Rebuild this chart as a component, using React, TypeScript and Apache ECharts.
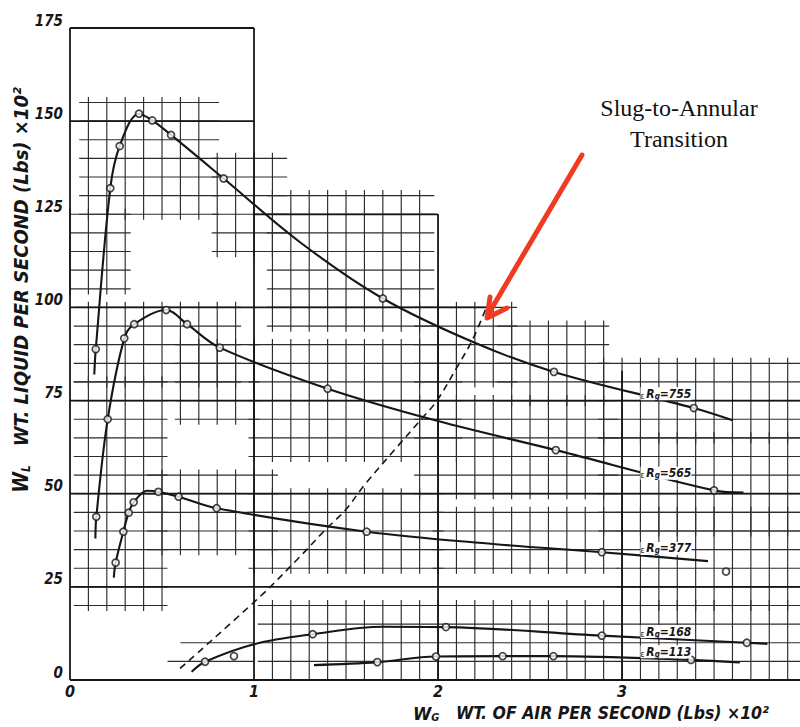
import React, { useEffect, useRef } from "react";
import * as echarts from "echarts";

// ---------- data ----------
const xTicks = [0, 1, 2, 3];
const yTicks = [0, 25, 50, 75, 100, 125, 150, 175];

// measured points (W_G, W_L)
const r755Points = [
  [0.14, 88.8], [0.219, 132], [0.27, 143.3], [0.375, 152], [0.447, 150.2],
  [0.549, 146.3], [0.835, 134.6], [1.70, 102.4], [2.63, 82.7], [3.39, 73.0],
];
const r565Points = [
  [0.143, 43.8], [0.205, 70.0], [0.295, 91.7], [0.349, 95.5], [0.523, 99.3],
  [0.636, 95.5], [0.814, 89.2], [1.40, 78.2], [2.64, 61.7], [3.50, 50.9],
];
const r377Points = [
  [0.248, 31.5], [0.29, 39.8], [0.319, 44.9], [0.346, 47.7], [0.48, 50.5],
  [0.59, 49.2], [0.797, 46.1], [1.612, 39.8], [2.89, 34.3], [3.565, 29.1],
];
const r168Points = [
  [0.734, 4.9], [0.891, 6.4], [1.319, 12.3], [2.043, 14.2], [2.89, 11.9], [3.678, 10.0],
];
const r113Points = [
  [1.67, 4.8], [1.989, 6.3], [2.351, 6.4], [2.627, 6.4], [3.375, 5.4],
];

// faired curves as drawn on the original
const r755Curve = [
  [0.132, 82], [0.14, 88.8], [0.219, 132], [0.27, 143.3], [0.375, 152], [0.447, 150.2],
  [0.549, 146.3], [0.835, 134.6], [1.25, 117.5], [1.70, 102.4], [2.2, 90.5],
  [2.63, 82.7], [3.39, 73.0], [3.6, 69.7],
];
const r565Curve = [
  [0.138, 38], [0.143, 43.8], [0.205, 70.0], [0.295, 91.7], [0.349, 95.5], [0.523, 99.3],
  [0.636, 95.5], [0.814, 89.2], [1.40, 78.2], [2.0, 69.5], [2.64, 61.7], [3.50, 50.9], [3.66, 50.3],
];
const r377Curve = [
  [0.238, 27.5], [0.248, 31.5], [0.29, 39.8], [0.319, 44.9], [0.346, 47.7], [0.42, 50.8],
  [0.48, 50.5], [0.59, 49.2], [0.797, 46.1], [1.612, 39.8], [2.3, 36.5], [2.89, 34.3], [3.467, 31.9],
];
const r168Curve = [
  [0.661, 2.2], [0.734, 4.9], [1.0, 9.6], [1.319, 12.3], [1.7, 14.3], [2.043, 14.2],
  [2.89, 11.9], [3.678, 10.0], [3.79, 9.7],
];
const r113Curve = [
  [1.326, 4.0], [1.67, 4.8], [1.989, 6.3], [2.351, 6.4], [2.627, 6.4], [3.375, 5.4], [3.64, 4.7],
];
// dashed slug-to-annular transition line
const transitionCurve = [
  [0.598, 3.1], [1.033, 22.4], [1.232, 32.2], [1.395, 40.7], [1.493, 45.4], [1.603, 52.5],
  [1.773, 62.3], [1.905, 69.8], [1.99, 74.7], [2.105, 84.1], [2.19, 91.6], [2.259, 99.6],
];

// curve labels: [W_G, W_L, Rg]
const curveLabels = [
  [3.1, 76.8, "755"],
  [3.1, 55.5, "565"],
  [3.1, 35.3, "377"],
  [3.1, 13.0, "168"],
  [3.1, 7.6, "113"],
];

// heavy lines of the graph paper: [x0, y0, x1, y1]
const frameLines = [
  [0, 0, 0, 175], [0, 0, 3.967, 0], [0, 175, 1, 175], [1, 0, 1, 175],
  [1, 125, 2, 125], [2, 0, 2, 125], [0, 150, 1, 150], [0, 100, 2.3, 100],
  [0, 75, 3.967, 75], [0, 50, 3.967, 50], [0, 25, 3.967, 25], [3, 0, 3, 83],
];

// single fine rules: [x0, y0, x1, y1]
const thinLines = [
  [0.6, 10, 1.0, 10], [0.53, 5, 1.0, 5],
];

// patches of fine ruling (0.1 x 5 units): [x0, x1, y0, y1]
const gridPatches = [
  [0.08, 0.78, 125, 155],
  [0.0, 0.3, 105, 125],
  [0.8, 1.15, 115, 140],
  [1.1, 1.95, 95, 130],
  [1.9, 2.4, 80, 100],
  [2.35, 2.9, 75, 95],
  [2.9, 3.97, 65, 85],
  [0.05, 0.9, 80, 100],
  [0.6, 1.0, 70, 90],
  [1.0, 2.1, 60, 90],
  [1.9, 2.95, 50, 75],
  [2.9, 3.97, 40, 65],
  [0.05, 0.5, 20, 80],
  [0.45, 1.1, 35, 55],
  [1.0, 2.0, 30, 50],
  [2.0, 2.95, 30, 45],
  [3.0, 3.97, 20, 45],
  [1.05, 3.97, 0, 20],
];

const INK = "#161616";
const RULE = "#2c2c2c";
const HAND = '"DejaVu Sans Condensed", "DejaVu Sans", sans-serif';

export default function App() {
  const ref = useRef<HTMLDivElement>(null);

  useEffect(() => {
    document.body.style.margin = "0";
    const chart = echarts.init(ref.current!, null, { renderer: "svg" });

    const curveSeries = (data: number[][], dashed = false) => ({
      type: "line",
      data,
      smooth: 0.35,
      showSymbol: false,
      silent: true,
      z: 4,
      lineStyle: { color: INK, width: dashed ? 1.6 : 2.1, type: dashed ? [7, 5] : "solid" },
    });
    const pointSeries = (data: number[][]) => ({
      type: "scatter",
      data,
      symbol: "circle",
      symbolSize: 7,
      silent: true,
      z: 5,
      itemStyle: { color: "#fff", borderColor: INK, borderWidth: 1.7 },
    });
    const segSeries = (data: number[][], width: number, color: string, z: number) => ({
      type: "custom",
      data,
      encode: { x: [0, 2], y: [1, 3] },
      silent: true,
      z,
      renderItem: (params: any, api: any) => {
        const a = api.coord([api.value(0), api.value(1)]);
        const b = api.coord([api.value(2), api.value(3)]);
        return {
          type: "line",
          shape: { x1: a[0], y1: a[1], x2: b[0], y2: b[1] },
          style: { stroke: color, lineWidth: width },
        };
      },
    });

    const handRich = (main: number, sub: number, pad: number) => ({
      w: { fontSize: main + 1, fontFamily: HAND, fontStyle: "italic", fontWeight: "bold", fill: INK },
      s: { fontSize: sub, fontFamily: HAND, fontStyle: "italic", fontWeight: "bold", fill: INK, verticalAlign: "bottom", padding: [pad, 0, 0, 0] },
      t: { fontSize: main, fontFamily: HAND, fontStyle: "italic", fontWeight: "bold", fill: INK },
    });

    const option: any = {
      animation: false,
      backgroundColor: "#fff",
      grid: { left: 70, right: 0, top: 28, bottom: 47 },
      xAxis: {
        type: "value",
        min: 0,
        max: 3.967,
        interval: 1,
        axisLine: { show: false },
        axisTick: { show: false },
        splitLine: { show: false },
        axisLabel: {
          showMaxLabel: false,
          margin: 3,
          fontFamily: HAND,
          fontStyle: "italic",
          fontWeight: "bold",
          fontSize: 16,
          color: INK,
          formatter: (v: number) => (xTicks.includes(v) ? String(v) : ""),
        },
      },
      yAxis: {
        type: "value",
        min: 0,
        max: 175,
        interval: 25,
        axisLine: { show: false },
        axisTick: { show: false },
        splitLine: { show: false },
        axisLabel: {
          margin: 7,
          verticalAlign: "bottom",
          fontFamily: HAND,
          fontStyle: "italic",
          fontWeight: "bold",
          fontSize: 15,
          color: INK,
          formatter: (v: number) => (yTicks.includes(v) ? String(v) : ""),
        },
      },
      series: [
        {
          type: "custom",
          data: gridPatches,
          encode: { x: [0, 1], y: [2, 3] },
          silent: true,
          z: 1,
          renderItem: (params: any, api: any) => {
            const x0 = api.value(0), x1 = api.value(1), y0 = api.value(2), y1 = api.value(3);
            const children: any[] = [];
            const st = { stroke: RULE, lineWidth: 1.15 };
            for (let k = Math.ceil(x0 * 10 - 1e-6); k <= Math.floor(x1 * 10 + 1e-6); k++) {
              const a = api.coord([k / 10, Math.max(0, y0 - 1.5)]);
              const b = api.coord([k / 10, y1 + 1.5]);
              children.push({ type: "line", shape: { x1: a[0], y1: a[1], x2: b[0], y2: b[1] }, style: st });
            }
            for (let k = Math.ceil(y0 / 5 - 1e-6); k <= Math.floor(y1 / 5 + 1e-6); k++) {
              const a = api.coord([Math.max(0, x0 - 0.03), k * 5]);
              const b = api.coord([Math.min(3.967, x1 + 0.03), k * 5]);
              children.push({ type: "line", shape: { x1: a[0], y1: a[1], x2: b[0], y2: b[1] }, style: st });
            }
            return { type: "group", children };
          },
        },
        segSeries(thinLines, 1.15, RULE, 1),
        segSeries(frameLines, 1.8, INK, 2),
        curveSeries(r755Curve),
        curveSeries(r565Curve),
        curveSeries(r377Curve),
        curveSeries(r168Curve),
        curveSeries(r113Curve),
        curveSeries(transitionCurve, true),
        pointSeries(r755Points),
        pointSeries(r565Points),
        pointSeries(r377Points),
        pointSeries(r168Points),
        pointSeries(r113Points),
        {
          type: "custom",
          data: curveLabels,
          encode: { x: 0, y: 1 },
          silent: true,
          z: 6,
          renderItem: (params: any, api: any) => {
            const item = curveLabels[params.dataIndex];
            const p = api.coord([item[0], item[1]]);
            return {
              type: "text",
              x: p[0],
              y: p[1],
              style: {
                text: `{e|ε}{r|R}{s|g}{r|=${item[2]}}`,
                verticalAlign: "middle",
                align: "left",
                backgroundColor: "#fff",
                rich: {
                  e: { fontSize: 8, fontFamily: HAND, fill: INK, verticalAlign: "bottom", padding: [4, 2, 0, 0] },
                  r: { fontSize: 12, fontFamily: HAND, fontStyle: "italic", fontWeight: "bold", fill: INK },
                  s: { fontSize: 8, fontFamily: HAND, fontStyle: "italic", fontWeight: "bold", fill: INK, verticalAlign: "bottom", padding: [5, 0, 0, 0] },
                },
              },
            };
          },
        },
      ],
      graphic: [
        {
          type: "text",
          x: 413,
          y: 713,
          style: {
            text: "{w|W}{s|G}{t|   WT. OF AIR PER SECOND (Lbs) ×10²}",
            verticalAlign: "middle",
            rich: handRich(17.5, 11, 9),
          },
        },
        {
          type: "text",
          x: 21,
          y: 290,
          rotation: Math.PI / 2,
          style: {
            text: "{w|W}{s|L}{t|   WT. LIQUID PER SECOND (Lbs) ×10²}",
            align: "center",
            verticalAlign: "middle",
            rich: handRich(20, 12, 10),
          },
        },
        {
          type: "text",
          x: 679,
          y: 92,
          style: {
            text: "Slug-to-Annular\nTransition",
            align: "center",
            verticalAlign: "top",
            font: '24px "Liberation Serif", serif',
            lineHeight: 31,
            fill: "#111",
          },
        },
        {
          type: "line",
          shape: { x1: 582, y1: 155, x2: 489, y2: 313 },
          style: { stroke: "#f03a22", lineWidth: 5, lineCap: "round" },
          z: 10,
        },
        {
          type: "polyline",
          shape: { points: [[490, 297], [487, 318], [507, 308]] },
          style: { stroke: "#f03a22", lineWidth: 5, lineCap: "round", lineJoin: "round", fill: "none" },
          z: 10,
        },
      ],
    };

    chart.setOption(option);
    return () => chart.dispose();
  }, []);

  return <div ref={ref} style={{ width: 800, height: 727 }} />;
}
